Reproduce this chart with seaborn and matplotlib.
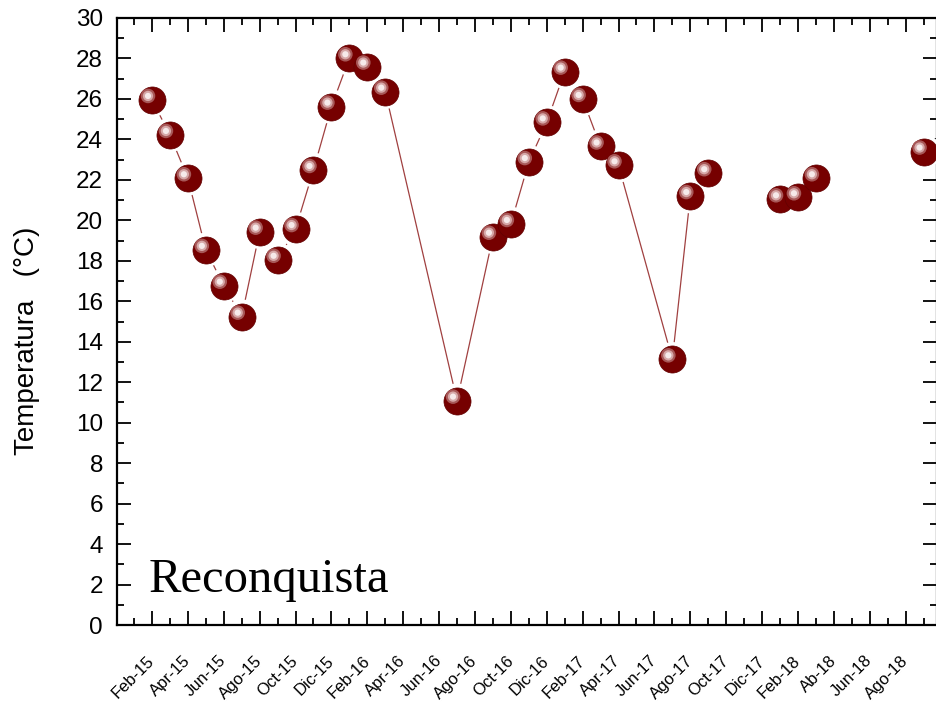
import numpy as np
import pandas as pd
import matplotlib
matplotlib.use("Agg")
import matplotlib.pyplot as plt
import matplotlib.transforms as mtransforms
from matplotlib.ticker import MultipleLocator, FixedLocator
import seaborn as sns

# ---- data ----
month_labels = ["Feb-15", "Mar-15", "Apr-15", "May-15", "Jun-15", "Jul-15", "Ago-15", "Sep-15",
                "Oct-15", "Nov-15", "Dic-15", "Ene-16", "Feb-16", "Mar-16", "Apr-16", "May-16",
                "Jun-16", "Jul-16", "Ago-16", "Sep-16", "Oct-16", "Nov-16", "Dic-16", "Ene-17",
                "Feb-17", "Mar-17", "Apr-17", "May-17", "Jun-17", "Jul-17", "Ago-17", "Sep-17",
                "Oct-17", "Nov-17", "Dic-17", "Ene-18", "Feb-18", "Mar-18", "Ab-18", "May-18",
                "Jun-18", "Jul-18", "Ago-18", "Sep-18"]
# month index of each measurement (0 = Feb-15)
month_idx = [0, 1, 2, 3, 4, 5, 6, 7, 8, 9, 10, 11, 12, 13,
             17, 19, 20, 21, 22, 23, 24, 25, 26,
             29, 30, 31,
             35, 36, 37,
             43]
temperature = [25.95, 24.22, 22.08, 18.54, 16.77, 15.24, 19.44, 18.05, 19.57, 22.49, 25.62, 28.01, 27.60, 26.36,
               11.09, 19.19, 19.82, 22.88, 24.84, 27.35, 26.00, 23.65, 22.72,
               13.13, 21.20, 22.33,
               21.04, 21.14, 22.08,
               23.40]
# line segment each point belongs to (the line is interrupted between segments)
segment = [0] * 14 + [0] * 9 + [0] * 3 + [1] * 3 + [2]

tick_labels = month_labels[::2]

df = pd.DataFrame({"idx": month_idx, "temp": temperature, "seg": segment})

# ---- style ----
sns.set_style("ticks")
plt.rcParams["font.family"] = ["Liberation Sans", "DejaVu Sans"]
plt.rcParams["text.color"] = "black"
plt.rcParams["axes.labelcolor"] = "black"
plt.rcParams["xtick.color"] = "black"
plt.rcParams["ytick.color"] = "black"

fig = plt.figure(figsize=(9.37, 7.06), dpi=100)
ax = fig.add_axes([117 / 937, 81 / 706, 820 / 937, 607 / 706])

line_color = "#a04040"
marker_color = "#760000"

sns.lineplot(data=df, x="idx", y="temp", units="seg", estimator=None, color=line_color,
             linewidth=0.9, ax=ax, zorder=2, legend=False)
# white halo that separates line and markers
sns.scatterplot(data=df, x="idx", y="temp", s=620, color="white", edgecolor="none",
                ax=ax, zorder=3, legend=False)
sns.scatterplot(data=df, x="idx", y="temp", s=380, color=marker_color, edgecolor="#620000",
                linewidth=0.5, ax=ax, zorder=4, legend=False)
# highlight of the shiny sphere
off = mtransforms.ScaledTranslation(-4 / 100, 4 / 100, fig.dpi_scale_trans)
sns.scatterplot(data=df, x="idx", y="temp", s=110, color="#a85858", edgecolor="none",
                ax=ax, zorder=5, legend=False, transform=ax.transData + off)
sns.scatterplot(data=df, x="idx", y="temp", s=55, color="#d6a8a8", edgecolor="none",
                ax=ax, zorder=6, legend=False, transform=ax.transData + off)
sns.scatterplot(data=df, x="idx", y="temp", s=20, color="#f6eaea", edgecolor="none",
                ax=ax, zorder=7, legend=False, transform=ax.transData + off)

ax.set_xlim(-1.95, 43.75)
ax.set_ylim(0, 30)
ax.xaxis.set_major_locator(FixedLocator(list(range(0, 44, 2))))
ax.set_xticklabels(tick_labels)
ax.xaxis.set_minor_locator(MultipleLocator(1))
ax.yaxis.set_major_locator(MultipleLocator(2))
ax.yaxis.set_minor_locator(MultipleLocator(1))

ax.tick_params(which="both", direction="in", top=True, right=True, width=1.3, color="black")
ax.tick_params(which="major", length=10)
ax.tick_params(which="minor", length=5)
ax.tick_params(axis="y", labelsize=17.5, pad=10)
ax.tick_params(axis="x", labelsize=12, pad=24)
for lab in ax.get_xticklabels():
    lab.set_rotation(45)
    lab.set_ha("right")
    lab.set_va("center")
    lab.set_rotation_mode("anchor")

for sp in ax.spines.values():
    sp.set_linewidth(1.6)
    sp.set_color("black")

ax.set_xlabel("")
ax.set_ylabel("Temperatura   (°C)", fontsize=20)
ax.yaxis.set_label_coords(-0.094, 0.468)

ax.text(0.038, 0.054, "Reconquista", transform=ax.transAxes, fontsize=35,
        family="Liberation Serif", va="baseline", ha="left", color="black")

fig.savefig("out.png", dpi=100)
